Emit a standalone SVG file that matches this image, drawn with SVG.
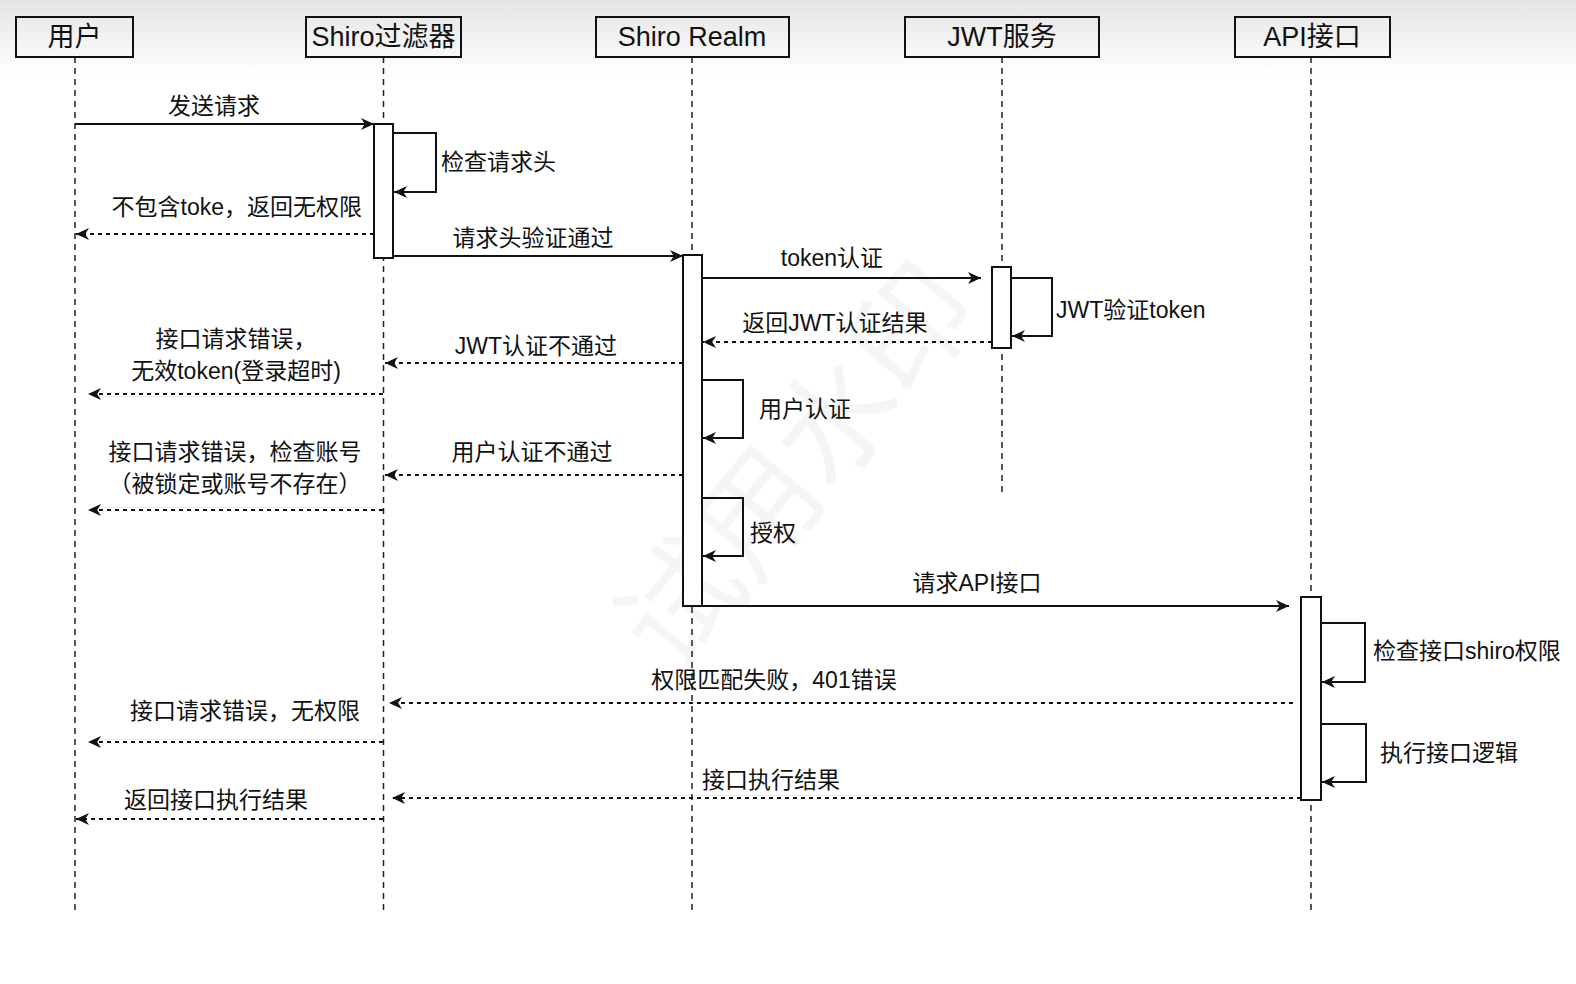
<svg xmlns="http://www.w3.org/2000/svg" width="1576" height="984" viewBox="0 0 1576 984">
<style>
.box{fill:none;stroke:#111;stroke-width:2}
.hdr{font-family:"Liberation Sans","Noto Sans CJK SC",sans-serif;font-size:27px;fill:#111;text-anchor:middle;dominant-baseline:central}
.life{stroke:#222;stroke-width:1.5;stroke-dasharray:6 5;fill:none}
.act{fill:#fff;stroke:#111;stroke-width:2}
.msg{stroke:#111;stroke-width:2;fill:none;marker-end:url(#arr)}
.ret{stroke:#111;stroke-width:2;fill:none;stroke-dasharray:4 4;marker-end:url(#arr)}
.lbl{font-family:"Liberation Sans","Noto Sans CJK SC",sans-serif;font-size:23px;fill:#111;dominant-baseline:central}
.c{text-anchor:middle}
.e{text-anchor:end}
.wm{font-family:"Noto Sans CJK SC",sans-serif;font-size:120px;fill:#000;opacity:0.035;text-anchor:middle;dominant-baseline:central}
</style>
<defs>
<linearGradient id="bg" x1="0" y1="0" x2="0" y2="1">
<stop offset="0" stop-color="#e4e4e4"/>
<stop offset="1" stop-color="#ffffff"/>
</linearGradient>
<marker id="arr" viewBox="0 0 12 12" refX="12" refY="6" markerWidth="13" markerHeight="13" markerUnits="userSpaceOnUse" orient="auto">
<path d="M0,0.5 L12,6 L0,11.5 L3.5,6 z" fill="#111"/>
</marker>
</defs>
<rect x="0" y="0" width="1576" height="984" fill="#fff"/>
<rect x="0" y="0" width="1576" height="75" fill="url(#bg)"/>
<text class="wm" transform="translate(790,460) rotate(-50)">试用水印</text>

<g id="lifelines">
<line class="life" x1="75" y1="57" x2="75" y2="915"/>
<line class="life" x1="383.5" y1="57" x2="383.5" y2="915"/>
<line class="life" x1="692" y1="57" x2="692" y2="915"/>
<line class="life" x1="1002" y1="57" x2="1002" y2="492"/>
<line class="life" x1="1311" y1="57" x2="1311" y2="915"/>
</g>

<g id="user"><rect class="box" x="16" y="17" width="117" height="40"/><text class="hdr" x="74.5" y="37">用户</text></g>
<g id="shiro-filter"><rect class="box" x="306" y="17" width="155" height="40"/><text class="hdr" x="383.5" y="37">Shiro过滤器</text></g>
<g id="shiro-realm"><rect class="box" x="596" y="17" width="193" height="40"/><text class="hdr" x="692" y="37">Shiro Realm</text></g>
<g id="jwt-service"><rect class="box" x="905" y="17" width="194" height="40"/><text class="hdr" x="1002" y="37">JWT服务</text></g>
<g id="api"><rect class="box" x="1235" y="17" width="155" height="40"/><text class="hdr" x="1312" y="37">API接口</text></g>

<g id="activations">
<rect class="act" x="374" y="124" width="19" height="134"/>
<rect class="act" x="683" y="255" width="19" height="351"/>
<rect class="act" x="992" y="267" width="19" height="81"/>
<rect class="act" x="1301" y="597" width="20" height="203"/>
</g>

<g id="connectors">
<line class="msg" x1="75" y1="124" x2="374" y2="124"/>
<path class="msg" d="M393,133 H436 V192 H394"/>
<line class="ret" x1="374" y1="234" x2="76" y2="234"/>
<line class="msg" x1="393" y1="256" x2="683" y2="256"/>
<line class="msg" x1="702" y1="278" x2="981" y2="278"/>
<path class="msg" d="M1011,278 H1052 V336 H1012"/>
<line class="ret" x1="992" y1="342" x2="703" y2="342"/>
<line class="ret" x1="683" y1="363" x2="385" y2="363"/>
<line class="ret" x1="383" y1="394" x2="88" y2="394"/>
<path class="msg" d="M702,380 H743 V438 H703"/>
<line class="ret" x1="683" y1="475" x2="385" y2="475"/>
<line class="ret" x1="383" y1="510" x2="88" y2="510"/>
<path class="msg" d="M702,498 H743 V556 H703"/>
<line class="msg" x1="702" y1="606" x2="1289" y2="606"/>
<path class="msg" d="M1321,623 H1365 V682 H1322"/>
<line class="ret" x1="1293" y1="703" x2="389" y2="703"/>
<line class="ret" x1="383" y1="742" x2="88" y2="742"/>
<path class="msg" d="M1321,724 H1366 V782 H1322"/>
<line class="ret" x1="1301" y1="798" x2="392" y2="798"/>
<line class="ret" x1="383" y1="819" x2="76" y2="819"/>
</g>

<g id="labels">
<text class="lbl c" x="214" y="106">发送请求</text>
<text class="lbl" x="441" y="162">检查请求头</text>
<text class="lbl e" x="362" y="207">不包含toke，返回无权限</text>
<text class="lbl c" x="533" y="238">请求头验证通过</text>
<text class="lbl c" x="832" y="258">token认证</text>
<text class="lbl" x="1056" y="310">JWT验证token</text>
<text class="lbl c" x="835" y="323">返回JWT认证结果</text>
<text class="lbl c" x="536" y="346">JWT认证不通过</text>
<text class="lbl c" x="236" y="339">接口请求错误，</text>
<text class="lbl c" x="236" y="371">无效token(登录超时)</text>
<text class="lbl" x="759" y="409">用户认证</text>
<text class="lbl c" x="532" y="452">用户认证不通过</text>
<text class="lbl c" x="235" y="452">接口请求错误，检查账号</text>
<text class="lbl c" x="235" y="484">（被锁定或账号不存在）</text>
<text class="lbl" x="750" y="533">授权</text>
<text class="lbl c" x="977" y="583">请求API接口</text>
<text class="lbl" x="1373" y="651">检查接口shiro权限</text>
<text class="lbl c" x="774" y="680">权限匹配失败，401错误</text>
<text class="lbl c" x="245" y="711">接口请求错误，无权限</text>
<text class="lbl" x="1380" y="753">执行接口逻辑</text>
<text class="lbl c" x="771" y="780">接口执行结果</text>
<text class="lbl c" x="216" y="800">返回接口执行结果</text>
</g>
</svg>
